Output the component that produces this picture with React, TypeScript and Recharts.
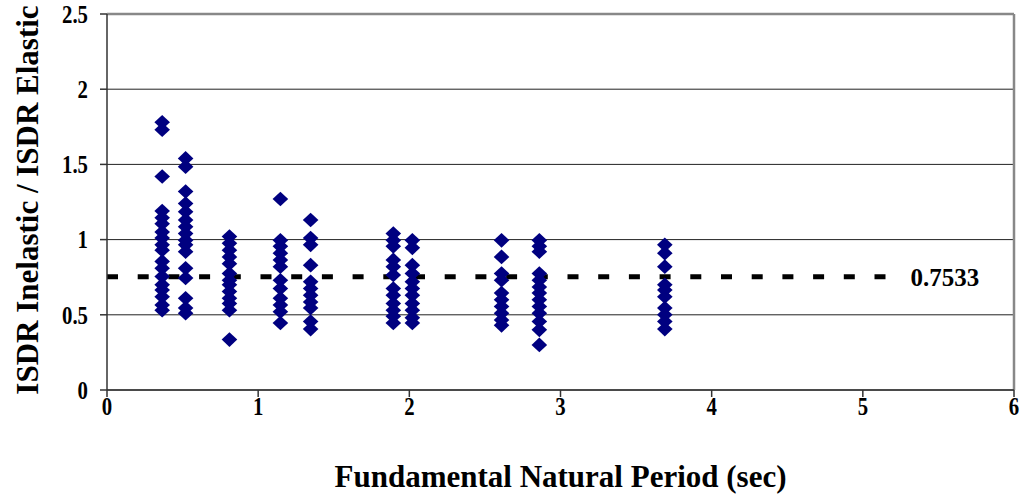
import React from 'react';
import {
  ScatterChart,
  Scatter,
  XAxis,
  YAxis,
  CartesianGrid,
  ReferenceLine,
} from 'recharts';

// Fundamental periods (sec) of the building models
const periods = [0.365, 0.52, 0.81, 1.147, 1.347, 1.894, 2.02, 2.61, 2.86, 3.69];

// ISDR inelastic / ISDR elastic ratios for each model
const ratiosA = [1.78, 1.73, 1.42, 1.19, 1.145, 1.105, 1.05, 1.01, 0.965, 0.93, 0.855, 0.81, 0.755, 0.7, 0.665, 0.62, 0.565, 0.53];
const ratiosB = [1.54, 1.485, 1.32, 1.24, 1.185, 1.13, 1.085, 1.04, 0.995, 0.965, 0.92, 0.81, 0.745, 0.61, 0.545, 0.51];
const ratiosC = [1.02, 0.975, 0.93, 0.885, 0.84, 0.775, 0.73, 0.7, 0.655, 0.61, 0.575, 0.53, 0.335];
const ratiosD = [1.27, 0.995, 0.955, 0.91, 0.865, 0.82, 0.73, 0.675, 0.61, 0.565, 0.52, 0.445];
const ratiosE = [1.13, 1.01, 0.965, 0.83, 0.72, 0.675, 0.63, 0.585, 0.545, 0.455, 0.405];
const ratiosF = [1.04, 0.995, 0.955, 0.865, 0.82, 0.765, 0.675, 0.63, 0.575, 0.53, 0.49, 0.445];
const ratiosG = [0.995, 0.945, 0.83, 0.775, 0.72, 0.675, 0.63, 0.575, 0.53, 0.48, 0.445];
const ratiosH = [0.995, 0.885, 0.775, 0.73, 0.645, 0.6, 0.555, 0.51, 0.465, 0.43];
const ratiosI = [0.995, 0.955, 0.92, 0.775, 0.73, 0.685, 0.645, 0.6, 0.555, 0.51, 0.455, 0.4, 0.3];
const ratiosJ = [0.965, 0.91, 0.82, 0.7, 0.665, 0.62, 0.545, 0.5, 0.455, 0.405];

const ratioGroups = [ratiosA, ratiosB, ratiosC, ratiosD, ratiosE, ratiosF, ratiosG, ratiosH, ratiosI, ratiosJ];

const meanRatio = 0.7533;
const meanLineEnd = 5.15;

const xTicks = [0, 1, 2, 3, 4, 5, 6];
const yTicks = [0, 0.5, 1, 1.5, 2, 2.5];

const points = periods.flatMap((period, i) =>
  ratioGroups[i].map((ratio) => ({ period, ratio }))
);

const FONT = "'Liberation Serif', 'Times New Roman', Times, serif";
const TICK_SIZE = 26;
const TICK_SQUEEZE = 0.8;

const Diamond = (props: any) => {
  const { cx, cy } = props;
  const hw = 7.8;
  const hh = 7.3;
  return (
    <path
      d={`M${cx},${cy - hh}L${cx + hw},${cy}L${cx},${cy + hh}L${cx - hw},${cy}Z`}
      fill="#000080"
    />
  );
};

// Tick labels use a slightly condensed bold serif face
const XTick = (props: any) => {
  const { x, y, payload } = props;
  return (
    <g transform={`translate(${x},${y})`}>
      <text
        x={0}
        y={18}
        transform={`scale(${TICK_SQUEEZE},1)`}
        textAnchor="middle"
        fontFamily={FONT}
        fontWeight="bold"
        fontSize={TICK_SIZE}
        fill="#000"
      >
        {payload.value}
      </text>
    </g>
  );
};

const YTick = (props: any) => {
  const { x, y, payload } = props;
  return (
    <g transform={`translate(${x},${y})`}>
      <text
        x={0}
        y={0}
        transform={`scale(${TICK_SQUEEZE},1)`}
        textAnchor="end"
        dominantBaseline="central"
        fontFamily={FONT}
        fontWeight="bold"
        fontSize={TICK_SIZE}
        fill="#000"
      >
        {payload.value}
      </text>
    </g>
  );
};

const YTitle = (props: any) => {
  const { viewBox } = props;
  const cx = viewBox.x + 27;
  const cy = viewBox.y + viewBox.height / 2 - 2;
  return (
    <text
      x={cx}
      y={cy}
      transform={`rotate(-90, ${cx}, ${cy})`}
      textAnchor="middle"
      dominantBaseline="central"
      fontFamily={FONT}
      fontWeight="bold"
      fontSize={31}
      fill="#000"
    >
      ISDR Inelastic / ISDR Elastic
    </text>
  );
};

export default function App() {
  return (
    <div style={{ position: 'absolute', left: 0, top: 0, background: '#fff' }}>
      <ScatterChart
        width={1030}
        height={501}
        margin={{ top: 14, right: 16, bottom: 0, left: 0 }}
      >
        <CartesianGrid vertical={false} stroke="#222" strokeWidth={1} />
        <XAxis
          type="number"
          dataKey="period"
          domain={[0, 6]}
          ticks={xTicks}
          height={111}
          tickSize={7}
          tickMargin={0}
          stroke="#333"
          strokeWidth={1.5}
          tick={<XTick />}
          tickLine={{ stroke: '#333' }}
          label={{
            value: 'Fundamental Natural Period (sec)',
            position: 'insideBottom',
            offset: 14,
            fontFamily: FONT,
            fontWeight: 'bold',
            fontSize: 31,
            fill: '#000',
          }}
        />
        <YAxis
          type="number"
          dataKey="ratio"
          domain={[0, 2.5]}
          ticks={yTicks}
          width={107}
          tickSize={7}
          tickMargin={12}
          stroke="#333"
          strokeWidth={1.5}
          tick={<YTick />}
          tickLine={{ stroke: '#333' }}
          label={<YTitle />}
        />
        <ReferenceLine y={2.5} stroke="#888" strokeWidth={2.5} />
        <ReferenceLine x={6} stroke="#888" strokeWidth={2.5} />
        <ReferenceLine
          segment={[
            { x: 0, y: meanRatio },
            { x: meanLineEnd, y: meanRatio },
          ]}
          stroke="#000"
          strokeWidth={5}
          strokeDasharray="11 19.7"
          label={{
            value: String(meanRatio),
            position: 'right',
            offset: 25,
            fontFamily: FONT,
            fontWeight: 'bold',
            fontSize: 25,
            fill: '#000',
          }}
        />
        <Scatter data={points} shape={<Diamond />} isAnimationActive={false} />
      </ScatterChart>
    </div>
  );
}
